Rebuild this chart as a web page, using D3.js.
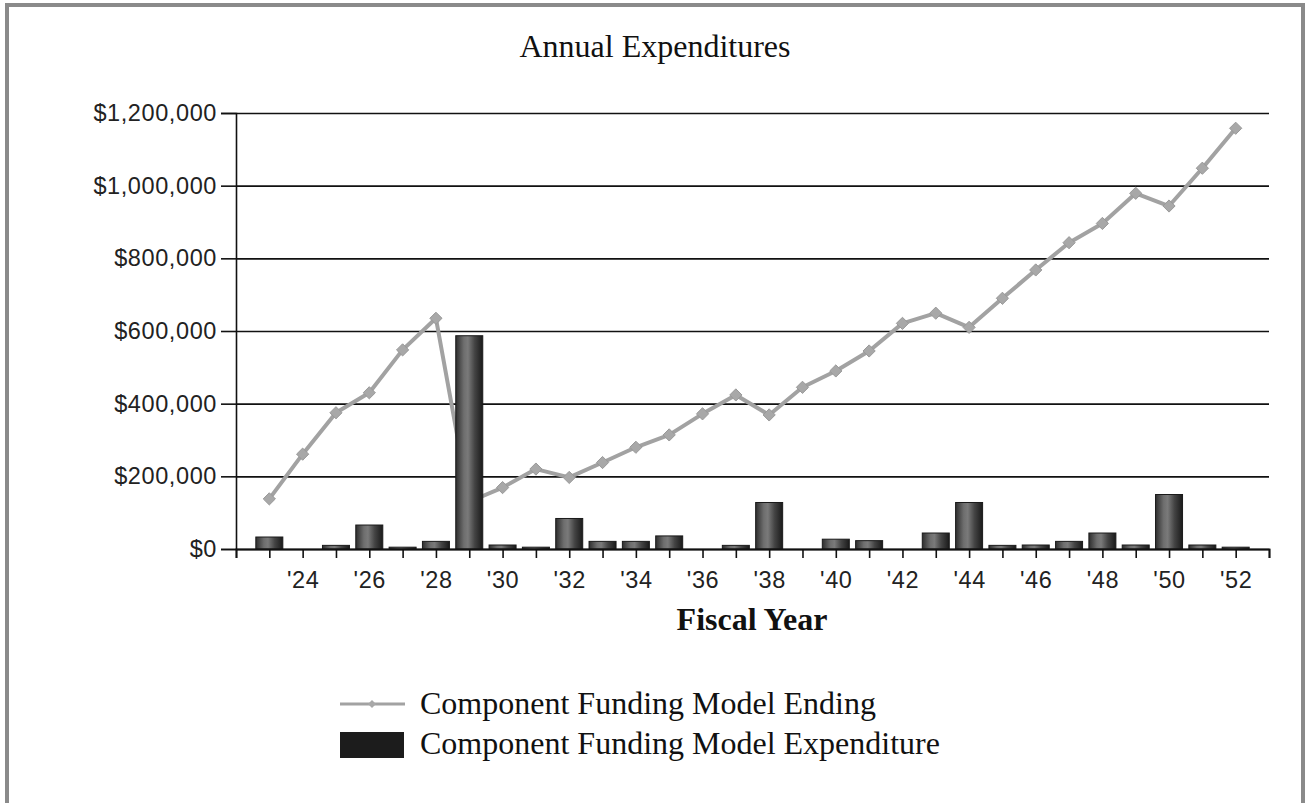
<!DOCTYPE html>
<html>
<head>
<meta charset="utf-8">
<script src="https://cdn.jsdelivr.net/npm/d3@7"></script>
<style>
html,body{margin:0;padding:0;background:#fff;}
svg{display:block;}
</style>
</head>
<body>
<svg id="chart" width="1307" height="803"></svg>
<script>
const years = [2023,2024,2025,2026,2027,2028,2029,2030,2031,2032,2033,2034,2035,2036,2037,2038,2039,2040,2041,2042,2043,2044,2045,2046,2047,2048,2049,2050,2051,2052];
const endingBalance = [138000,261000,375000,430000,548000,635000,130000,169000,220000,197000,238000,280000,314000,372000,424000,369000,445000,490000,545000,621000,649000,610000,690000,768000,843000,896000,979000,944000,1048000,1158000];
const expenditure = [33000,0,10000,66000,5000,21000,587000,11000,5000,84000,21000,21000,36000,0,10000,128000,0,27000,23000,0,44000,128000,10000,11000,21000,44000,11000,150000,11000,5000];
const yTicks = [0,200000,400000,600000,800000,1000000,1200000];
const seriesNames = ["Component Funding Model Ending","Component Funding Model Expenditure"];
const titleText = "Annual Expenditures";
const xTitle = "Fiscal Year";

const svg = d3.select("#chart");
const L = 236, R = 1269, T = 113, B = 549;

// frame
svg.append("rect").attr("x",7).attr("y",5).attr("width",1296).attr("height",820)
  .attr("fill","#fff").attr("stroke","#8a8a8a").attr("stroke-width",4);

const defs = svg.append("defs");
const grad = defs.append("linearGradient").attr("id","barGrad").attr("x1","0").attr("x2","1").attr("y1","0").attr("y2","0");
[["0%","#2e2e2e"],["30%","#6e6e6e"],["45%","#7a7a7a"],["70%","#444"],["100%","#1a1a1a"]]
  .forEach(([o,c])=>grad.append("stop").attr("offset",o).attr("stop-color",c));

const x = d3.scaleLinear().domain([2022,2053]).range([L,R]);
const y = d3.scaleLinear().domain([0,1200000]).range([B,T]);

const sansFont = "'Liberation Sans', Arial, sans-serif";
const serifFont = "'Liberation Serif','Times New Roman',serif";

// gridlines
svg.append("g").attr("transform",`translate(${L},0)`)
  .call(d3.axisLeft(y).tickValues(yTicks).tickSize(-(R-L)).tickFormat(""))
  .call(g=>g.select(".domain").remove())
  .call(g=>g.selectAll("line").attr("stroke","#111").attr("stroke-width",1.6));

// y axis
svg.append("g").attr("transform",`translate(${L},0)`)
  .call(d3.axisLeft(y).tickValues(yTicks).tickSize(15).tickPadding(4)
    .tickFormat(d=>"$"+d3.format(",")(d)))
  .call(g=>g.select(".domain").attr("stroke","#111").attr("stroke-width",1.6))
  .call(g=>g.selectAll("line").attr("stroke","#111").attr("stroke-width",1.6))
  .call(g=>g.selectAll("text").attr("font-family",sansFont)
    .attr("font-size",23.5).attr("letter-spacing","0.6px").attr("fill","#222"));

// line
const line = d3.line().x((d,i)=>x(years[i])).y(d=>y(d));
svg.append("path").datum(endingBalance).attr("d",line)
  .attr("fill","none").attr("stroke","#a2a2a2").attr("stroke-width",4).attr("stroke-linejoin","round");
svg.append("g").selectAll("path").data(endingBalance).join("path")
  .attr("transform",(d,i)=>`translate(${x(years[i])},${y(d)})`)
  .attr("d",d3.symbol(d3.symbolDiamond2,95))
  .attr("fill","#a8a8a8").attr("stroke","#999").attr("stroke-width",1);

// bars (over line)
const bw = 27;
svg.append("g").selectAll("rect").data(expenditure).join("rect")
  .attr("x",(d,i)=>x(years[i])-bw/2)
  .attr("y",d=>y(d))
  .attr("width",bw)
  .attr("height",d=>B-y(d))
  .attr("fill","url(#barGrad)")
  .attr("stroke","#1a1a1a").attr("stroke-width",1)
  .attr("display",d=>d>0?null:"none");

// x axis
svg.append("g").attr("transform",`translate(0,${B})`)
  .call(d3.axisBottom(x).tickValues(d3.range(2022,2054)).tickSize(9).tickPadding(13)
    .tickFormat(d=>(d%2===0 && d>=2024 && d<=2052)?"'"+String(d).slice(2):""))
  .call(g=>g.select(".domain").attr("stroke","#111").attr("stroke-width",1.8))
  .call(g=>g.selectAll("line").attr("stroke","#111").attr("stroke-width",1.6))
  .call(g=>g.selectAll("text").attr("font-family",sansFont)
    .attr("font-size",23.5).attr("letter-spacing","0.6px").attr("fill","#222"));

// title
svg.append("text").attr("x",655).attr("y",57).attr("text-anchor","middle")
  .attr("font-family",serifFont).attr("font-size",32)
  .attr("fill","#111").text(titleText);

svg.append("text").attr("x",752).attr("y",630).attr("text-anchor","middle")
  .attr("font-family",serifFont).attr("font-size",32)
  .attr("font-weight","bold").attr("fill","#111").text(xTitle);

// legend
const lg = svg.append("g");
lg.append("line").attr("x1",340).attr("x2",405).attr("y1",704).attr("y2",704)
  .attr("stroke","#a2a2a2").attr("stroke-width",3);
lg.append("path").attr("transform","translate(372,704)").attr("d",d3.symbol(d3.symbolDiamond2,40))
  .attr("fill","#a8a8a8");
lg.append("rect").attr("x",340).attr("y",732).attr("width",64).attr("height",26).attr("fill","#1c1c1c");
lg.selectAll("text").data(seriesNames).join("text")
  .attr("x",420).attr("y",(d,i)=>714+i*40)
  .attr("font-family",serifFont).attr("font-size",32)
  .attr("fill","#111").text(d=>d);
</script>
</body>
</html>
